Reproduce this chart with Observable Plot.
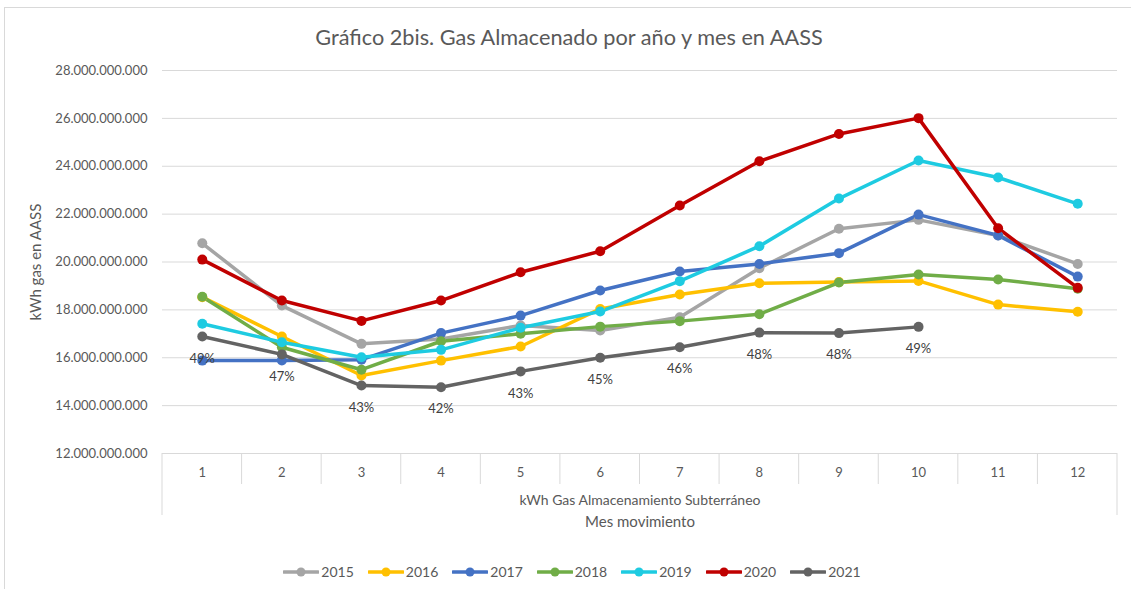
<!DOCTYPE html>
<html>
<head>
<meta charset="utf-8">
<script src="https://cdn.jsdelivr.net/npm/d3@7"></script>
<script src="https://cdn.jsdelivr.net/npm/@observablehq/plot@0.6"></script>
<style>
  html, body { margin: 0; padding: 0; background: #fff; }
  body { width: 1131px; height: 589px; overflow: hidden; font-family: Lato, "Open Sans", sans-serif; position: relative; }
  #frame { position: absolute; left: 4px; top: 7px; width: 1140px; height: 600px; border: 1px solid #d9d9d9; box-sizing: border-box; pointer-events: none; }
  #title { position: absolute; left: 0; top: 23px; width: 1138px; text-align: center; font-size: 21.7px; color: #595959; line-height: 28px; }
  #chart { position: absolute; left: 0; top: 50px; }
  #legend { position: absolute; left: 0; top: 563px; width: 1144px; display: flex; justify-content: center; gap: 14px; font-size: 14px; color: #595959; line-height: 18px; }
  #legend .item { display: flex; align-items: center; gap: 2px; }
</style>
</head>
<body>
<div id="frame"></div>
<div id="title">Gráfico 2bis. Gas Almacenado por año y mes en AASS</div>
<div id="chart"></div>
<div id="legend"></div>
<script>
const months = [1, 2, 3, 4, 5, 6, 7, 8, 9, 10, 11, 12];
const years = ["2015", "2016", "2017", "2018", "2019", "2020", "2021"];
const colors = ["#A5A5A5", "#FFC000", "#4472C4", "#70AD47", "#1ECBE1", "#C00000", "#636363"];

// values in billions of kWh (×1e9)
const s2015 = [20.78, 18.18, 16.58, 16.78, 17.35, 17.14, 17.69, 19.74, 21.39, 21.76, 21.11, 19.92];
const s2016 = [18.53, 16.89, 15.26, 15.88, 16.47, 18.04, 18.64, 19.11, 19.16, 19.21, 18.22, 17.92];
const s2017 = [15.88, 15.89, 15.92, 17.03, 17.76, 18.81, 19.60, 19.92, 20.37, 21.98, 21.11, 19.39];
const s2018 = [18.55, 16.44, 15.50, 16.69, 17.00, 17.30, 17.53, 17.82, 19.14, 19.48, 19.27, 18.88];
const s2019 = [17.42, 16.65, 16.02, 16.33, 17.25, 17.93, 19.20, 20.66, 22.65, 24.24, 23.53, 22.43];
const s2020 = [20.10, 18.39, 17.54, 18.39, 19.57, 20.45, 22.36, 24.21, 25.35, 26.01, 21.41, 18.92];
const s2021 = [16.89, 16.14, 14.84, 14.77, 15.43, 16.00, 16.44, 17.05, 17.03, 17.29];
const labels2021 = ["49%", "47%", "43%", "42%", "43%", "45%", "46%", "48%", "48%", "49%"];

const yTicks = [12e9, 14e9, 16e9, 18e9, 20e9, 22e9, 24e9, 26e9, 28e9];
const yLabel = "kWh gas en AASS";
const xSubLabel = "kWh Gas Almacenamiento Subterráneo";
const xTitle = "Mes movimiento";

const series = [s2015, s2016, s2017, s2018, s2019, s2020, s2021];
const data = [];
series.forEach((s, i) => s.forEach((v, j) => data.push({year: years[i], month: months[j], value: v * 1e9})));
const lbl = s2021.map((v, j) => ({month: months[j], value: v * 1e9, label: labels2021[j]}));

const locale = d3.formatLocale({decimal: ",", thousands: ".", grouping: [3], currency: ["", ""]});
const fmt = locale.format(",.0f");

const boundaries = months.map(m => m - 0.5).concat([months[months.length - 1] + 0.5]);

// custom mark: category-axis box below the plot
const axisBox = (index, scales, values, dims) => {
  const g = d3.create("svg:g").attr("stroke", "#d9d9d9").attr("stroke-width", 1);
  const y0 = scales.y(yTicks[0]);
  boundaries.forEach((b, i) => {
    const outer = i === 0 || i === boundaries.length - 1;
    g.append("line")
      .attr("x1", scales.x(b)).attr("x2", scales.x(b))
      .attr("y1", y0).attr("y2", y0 + (outer ? 62 : 31));
  });
  return g.node();
};

const plot = Plot.plot({
  width: 1131,
  height: 485,
  marginTop: 20,
  marginBottom: 82,
  marginLeft: 162,
  marginRight: 14,
  style: {fontFamily: "Lato, 'Open Sans', sans-serif", fontSize: "13px", color: "#595959", background: "transparent"},
  x: {type: "linear", domain: [0.5, 12.5]},
  y: {domain: [12e9, 28e9]},
  color: {domain: years, range: colors},
  marks: [
    Plot.ruleY(yTicks, {stroke: "#d9d9d9", strokeWidth: 1, strokeOpacity: 1}),
    axisBox,
    Plot.axisY(yTicks, {tickFormat: fmt, tickSize: 0, tickPadding: 15, fill: "#595959", fontSize: 13, label: null}),
    Plot.axisX(months, {tickSize: 0, tickPadding: 14, fill: "#595959", fontSize: 13, label: null, tickFormat: d => String(d)}),
    Plot.text([yLabel], {frameAnchor: "left", textAnchor: "middle", rotate: -90, dx: -126, fill: "#595959", fontSize: 15}),
    Plot.text([xSubLabel], {frameAnchor: "bottom", dy: 51, fill: "#595959", fontSize: 14}),
    Plot.text([xTitle], {frameAnchor: "bottom", dy: 73, fill: "#595959", fontSize: 15}),
    Plot.line(data, {x: "month", y: "value", z: "year", stroke: "year", strokeWidth: 3.5, strokeLinejoin: "round", strokeLinecap: "round"}),
    Plot.dot(data, {x: "month", y: "value", fill: "year", r: 5, stroke: "none"}),
    Plot.text(lbl, {x: "month", y: "value", text: "label", dy: 22, fill: "#404040", fontSize: 13})
  ]
});
document.getElementById("chart").appendChild(plot);

const legend = document.getElementById("legend");
years.forEach((yr, i) => {
  const item = document.createElement("div");
  item.className = "item";
  item.innerHTML = `<svg width="36" height="12"><line x1="1" x2="35" y1="6" y2="6" stroke="${colors[i]}" stroke-width="3.5" stroke-linecap="round"/><circle cx="18" cy="6" r="4.5" fill="${colors[i]}"/></svg><span>${yr}</span>`;
  legend.appendChild(item);
});
</script>
</body>
</html>
